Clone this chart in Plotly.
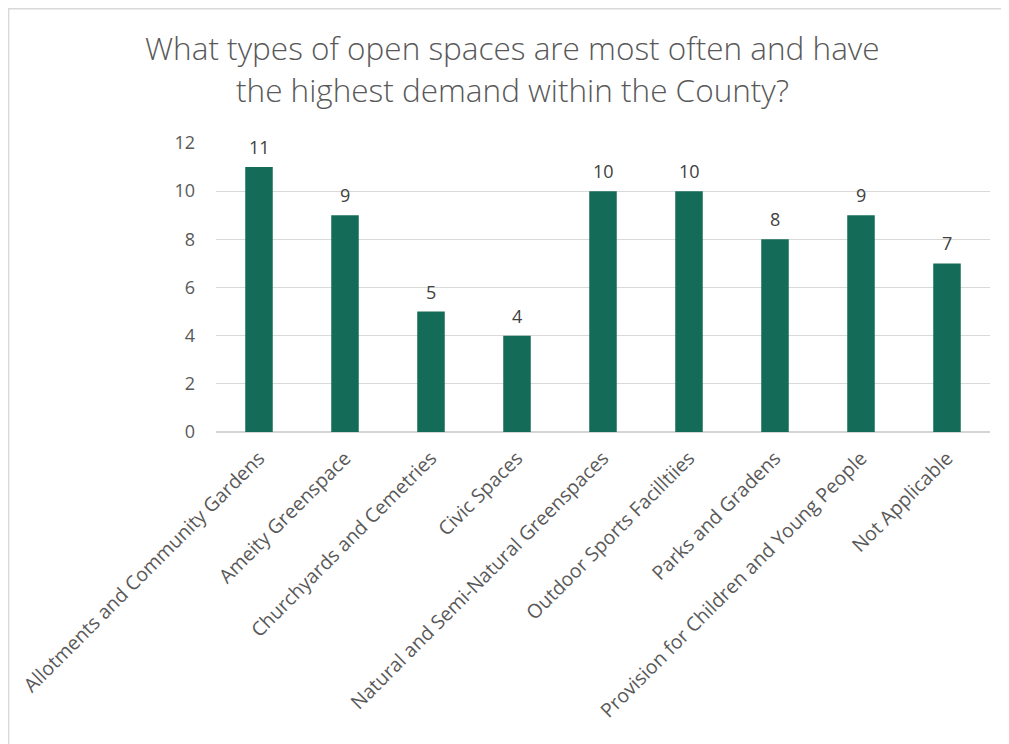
import plotly.graph_objects as go

categories = [
    "Allotments and Community Gardens",
    "Ameity Greenspace",
    "Churchyards and Cemetries",
    "Civic Spaces",
    "Natural and Semi-Natural Greenspaces",
    "Outdoor Sports Facilltiies",
    "Parks and Gradens",
    "Provision for Children and Young People",
    "Not Applicable",
]
values = [11, 9, 5, 4, 10, 10, 8, 9, 7]
y_ticks = [0, 2, 4, 6, 8, 10, 12]

title_lines = [
    "What types of open spaces are most often and have",
    "the highest demand within the County?",
]

W, H = 1001, 736
L, R, T, B = 208, 19, 135, 312
plot_w = W - L - R
plot_h = H - T - B

fig = go.Figure()
fig.add_trace(go.Bar(
    x=categories,
    y=values,
    marker=dict(color="#146c58", line=dict(width=0)),
    cliponaxis=False,
))

# data labels
for c, v in zip(categories, values):
    fig.add_annotation(
        x=c, y=v, xref="x", yref="y",
        text=str(v), showarrow=False,
        yanchor="bottom", yshift=6,
        font=dict(family="Open Sans", size=18, color="#404040"),
    )

# title (two centred lines)
for i, line in enumerate(title_lines):
    fig.add_annotation(
        xref="paper", yref="paper",
        x=(504 - L) / plot_w,
        y=(H - B - (39 + 42 * i)) / plot_h,
        xanchor="center", yanchor="middle",
        text=line, showarrow=False,
        font=dict(family="Open Sans", size=31.5, color="#595959", weight=300),
    )

fig.update_layout(
    width=W,
    height=H,
    paper_bgcolor="white",
    plot_bgcolor="white",
    margin=dict(l=L, r=R, t=T, b=B, autoexpand=False),
    bargap=0.68,
    showlegend=False,
    font=dict(family="Open Sans", color="#595959"),
)

fig.update_xaxes(
    tickangle=-45,
    tickfont=dict(family="Open Sans", size=19.5, color="#595959"),
    showgrid=False,
    showline=False,
    ticks="",
    ticklabelstandoff=10,
    automargin=False,
)
fig.update_yaxes(
    range=[0, 12],
    tickvals=y_ticks,
    showgrid=True,
    gridcolor="#d9d9d9",
    gridwidth=1.3,
    zeroline=True,
    zerolinecolor="#d4d4d4",
    zerolinewidth=1.6,
    ticks="",
    ticklabelstandoff=20,
    tickfont=dict(family="Open Sans", size=18, color="#595959"),
    automargin=False,
)

# chart-area border (decorative frame)
fig.add_shape(
    type="rect", xref="paper", yref="paper",
    x0=(0.7 - L) / plot_w, x1=(W + 20 - L) / plot_w,
    y0=(H - B - (H + 20)) / plot_h, y1=(H - B - 0.7) / plot_h,
    line=dict(color="#d9d9d9", width=1.4),
    fillcolor="rgba(0,0,0,0)",
    layer="below",
)

fig.write_html("out.html")
